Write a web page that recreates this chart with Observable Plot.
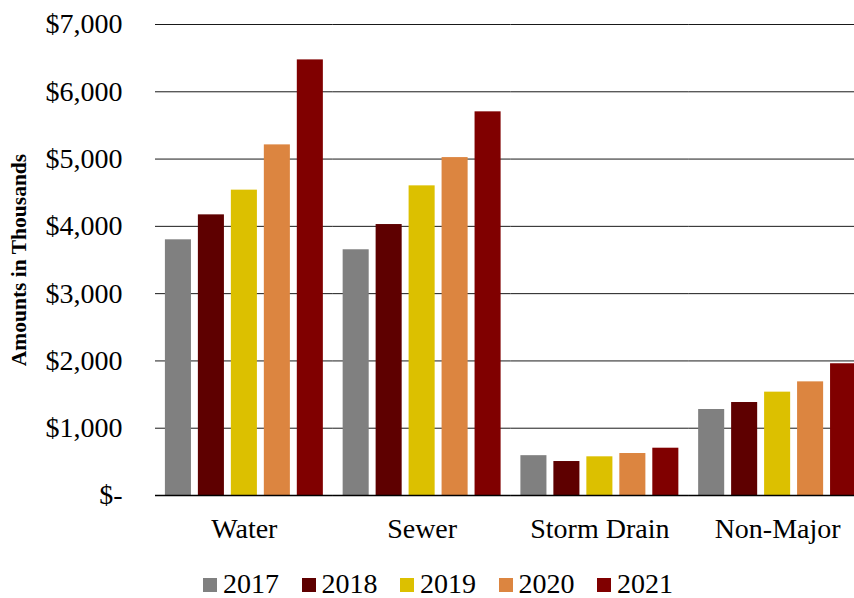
<!DOCTYPE html>
<html>
<head>
<meta charset="utf-8">
<script src="https://cdn.jsdelivr.net/npm/d3@7"></script>
<script src="https://cdn.jsdelivr.net/npm/@observablehq/plot@0.6"></script>
<style>
  html, body { margin: 0; padding: 0; background: #fff; overflow: hidden; width: 854px; height: 598px; }
  #chart { width: 854px; overflow: hidden; }
  #chart svg { max-width: none !important; display: block; }
  [aria-label="y-axis label"], [aria-label="y-axis label"] text { font-size: 21.5px; font-weight: bold; }
  #legend { display: flex; align-items: center; padding-left: 203px; padding-top: 10px; height: 28px; font-family: "Liberation Serif", serif; font-size: 28px; color: #000; }
  #legend .item { display: flex; align-items: center; margin-right: 22.5px; }
  #legend .sw { width: 14px; height: 14px; margin-right: 6px; margin-top: 2px; }
</style>
</head>
<body>
<div id="chart"></div>
<div id="legend"></div>
<script>
const categories = ["Water", "Sewer", "Storm Drain", "Non-Major"];
const years = ["2017", "2018", "2019", "2020", "2021"];
const colors = ["#808080", "#5e0000", "#dcc000", "#dc8540", "#800000"];
const v2017 = [3800, 3652, 592, 1278];
const v2018 = [4171, 4027, 505, 1382];
const v2019 = [4538, 4602, 575, 1536];
const v2020 = [5211, 5022, 624, 1689];
const v2021 = [6474, 5702, 703, 1958];
const yTicks = [0, 1000, 2000, 3000, 4000, 5000, 6000, 7000];

const series = [v2017, v2018, v2019, v2020, v2021];
const data = [];
categories.forEach((c, i) => {
  years.forEach((y, j) => data.push({category: c, year: y, value: series[j][i]}));
});

const fmt = d3.format(",");
const chart = Plot.plot({
  width: 866,
  height: 560,
  marginTop: 24,
  marginBottom: 65,
  marginLeft: 155,
  marginRight: 0,
  style: {fontFamily: "'Liberation Serif', serif", fontSize: "28px", background: "#fff", color: "#000"},
  fx: {domain: categories, padding: 0, round: false},
  x: {domain: years, axis: null, paddingInner: 0.21, paddingOuter: 0.3, round: false},
  y: {domain: [0, 7000]},
  color: {domain: years, range: colors},
  marks: [
    Plot.gridY(yTicks, {stroke: "#000", strokeOpacity: 0.9, strokeWidth: 1}),
    Plot.barY(data, {fx: "category", x: "year", y: "value", fill: "year"}),
    Plot.ruleY([0], {stroke: "#000", strokeWidth: 1.5}),
    Plot.axisY({
      ticks: yTicks,
      tickSize: 0,
      tickPadding: 33,
      fontSize: 28,
      tickFormat: d => d === 0 ? "$-" : "$" + fmt(d),
      label: "Amounts in Thousands",
      labelAnchor: "center",
      labelArrow: "none",
      labelOffset: 145
    }),
    Plot.axisFx({anchor: "bottom", tickSize: 0, tickPadding: 23, fontSize: 28, label: null})
  ]
});
document.getElementById("chart").appendChild(chart);

const legend = document.getElementById("legend");
years.forEach((y, i) => {
  const item = document.createElement("div");
  item.className = "item";
  const sw = document.createElement("div");
  sw.className = "sw";
  sw.style.background = colors[i];
  const t = document.createElement("span");
  t.textContent = y;
  item.appendChild(sw);
  item.appendChild(t);
  legend.appendChild(item);
});
</script>
</body>
</html>
